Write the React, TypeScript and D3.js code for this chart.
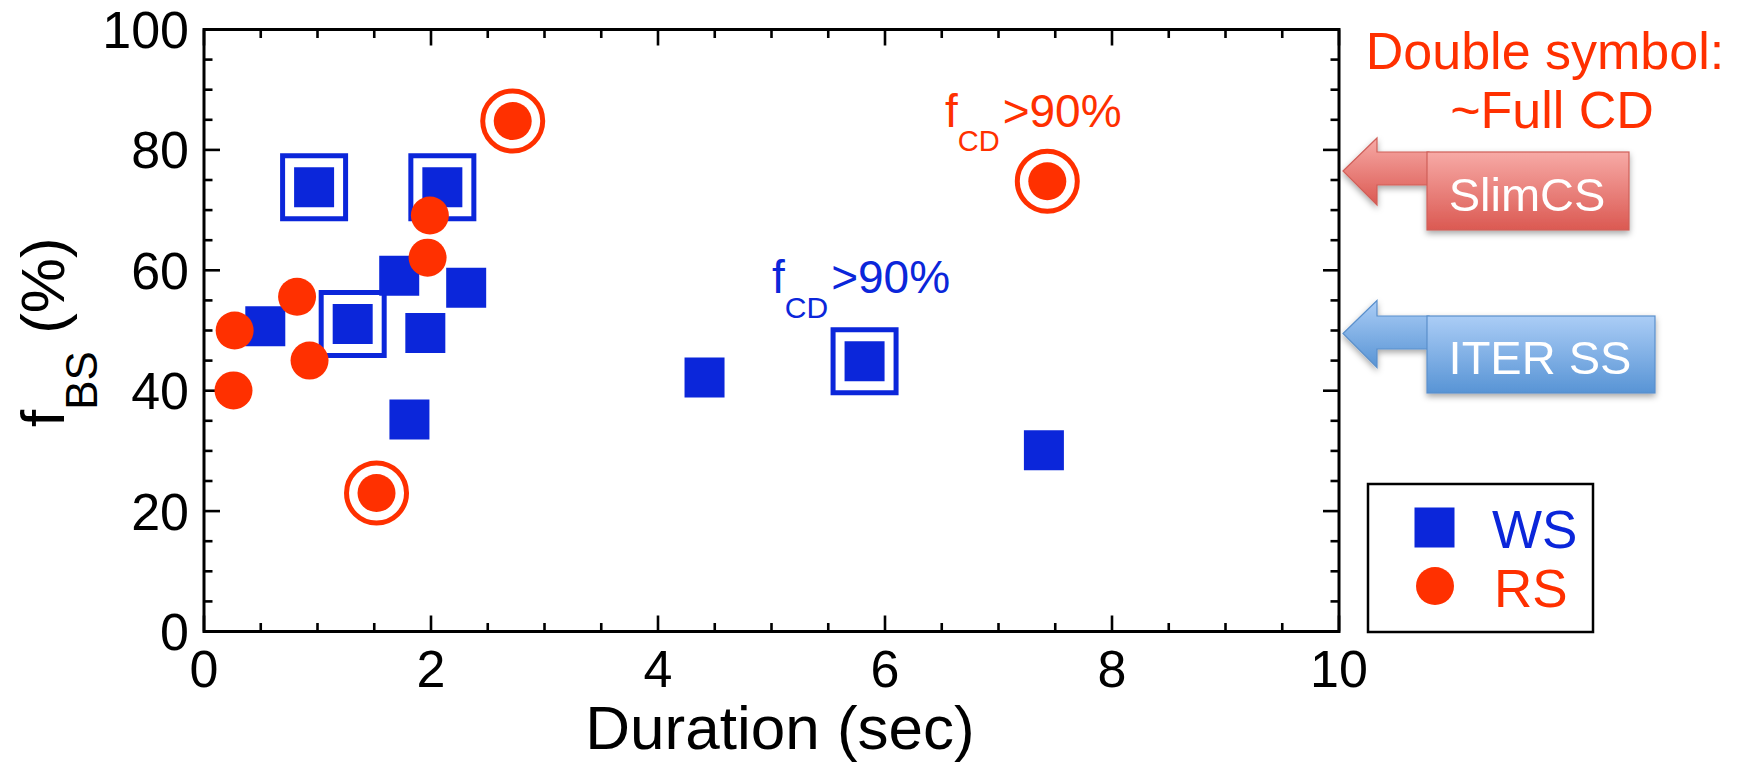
import React from "react";
import * as d3 from "d3";

// ---- data ----
const wsX = [0.54, 1.72, 1.95, 2.31, 1.81, 4.41, 7.4];
const wsY = [50.7, 59.1, 49.6, 57.1, 35.2, 42.2, 30.1];
const wsFullX = [0.97, 2.1, 1.31, 5.82];
const wsFullY = [73.8, 73.8, 51.1, 44.9];
const rsX = [0.27, 0.26, 0.82, 0.93, 1.99, 1.97];
const rsY = [50.0, 40.05, 55.6, 45.0, 69.1, 62.1];
const rsFullX = [1.52, 2.72, 7.43];
const rsFullY = [23.0, 84.8, 74.8];
const xTickValues = [0, 2, 4, 6, 8, 10];
const yTickValues = [0, 20, 40, 60, 80, 100];
const legendLabels = ["WS", "RS"];
const refLabels = ["SlimCS", "ITER SS"];
const refValues = [76.5, 49.5];

const W = 1740;
const H = 763;
const FONT = "'Liberation Sans', Arial, Helvetica, sans-serif";
const BLUE = "#0b26da";
const RED = "#ff3000";

export default function App() {
  const x = d3.scaleLinear().domain([0, 10]).range([204, 1339]);
  const y = d3.scaleLinear().domain([0, 100]).range([631.5, 29.5]);
  const [x0, x1] = x.range();
  const [y0, y1] = y.range();
  const minorX = d3.range(0, 10.001, 0.5);
  const minorY = d3.range(0, 100.001, 5);
  const isMajX = (v: number) => Math.abs(v / 2 - Math.round(v / 2)) < 1e-6;
  const isMajY = (v: number) => Math.abs(v / 20 - Math.round(v / 20)) < 1e-6;
  const MAJ = 16;
  const MIN = 8.5;
  const SQ = 40;
  const R = 19;

  const sq = d3.symbol().type(d3.symbolSquare).size(SQ * SQ)();
  const outerSq = d3.symbol().type(d3.symbolSquare).size(63 * 63)();

  // reference arrows
  const arrowDefs = [
    { label: refLabels[0], val: refValues[0], boxW: 202, top: "#f7aaa6", bot: "#db5952", stroke: "#cf5f59", boxTop: 152, boxBot: 230 },
    { label: refLabels[1], val: refValues[1], boxW: 228, top: "#abcdf6", bot: "#5894d5", stroke: "#5a8fcb", boxTop: 316, boxBot: 393 },
  ];

  return (
    <svg
      width={W}
      height={H}
      style={{ position: "absolute", left: 0, top: 0, background: "#fff" }}
      fontFamily={FONT}
    >
      <defs>
        {arrowDefs.map((a, i) => (
          <linearGradient key={i} id={`g${i}`} x1="0" y1="0" x2="0" y2="1">
            <stop offset="0" stopColor={a.top} />
            <stop offset="1" stopColor={a.bot} />
          </linearGradient>
        ))}
        <filter id="shadow" x="-20%" y="-20%" width="140%" height="160%">
          <feDropShadow dx="0" dy="3" stdDeviation="3" floodColor="#000" floodOpacity="0.35" />
        </filter>
      </defs>

      {/* frame */}
      <rect x={x0} y={y1} width={x1 - x0} height={y0 - y1} fill="none" stroke="#000" strokeWidth={3} />

      {/* x ticks bottom and top */}
      {minorX.map((v, i) => {
        const L = isMajX(v) ? MAJ : MIN;
        return (
          <g key={"xt" + i} stroke="#000" strokeWidth={2.6}>
            <line x1={x(v)} x2={x(v)} y1={y0} y2={y0 - L} />
            <line x1={x(v)} x2={x(v)} y1={y1} y2={y1 + L} />
          </g>
        );
      })}
      {minorY.map((v, i) => {
        const L = isMajY(v) ? MAJ : MIN;
        return (
          <g key={"yt" + i} stroke="#000" strokeWidth={2.6}>
            <line x1={x0} x2={x0 + L} y1={y(v)} y2={y(v)} />
            <line x1={x1} x2={x1 - L} y1={y(v)} y2={y(v)} />
          </g>
        );
      })}

      {/* tick labels */}
      {xTickValues.map((v) => (
        <text key={"xl" + v} x={x(v)} y={687} fontSize={52} textAnchor="middle" fill="#000">
          {v}
        </text>
      ))}
      {yTickValues.map((v) => (
        <text key={"yl" + v} x={189} y={y(v) + 18.5} fontSize={52} textAnchor="end" fill="#000">
          {v}
        </text>
      ))}

      {/* axis titles */}
      <text x={780} y={749} fontSize={62} textAnchor="middle" fill="#000">
        Duration (sec)
      </text>
      <text transform="translate(64,427) rotate(-90)" fontSize={62} fill="#000">
        f
        <tspan fontSize={44} dy={33}>BS</tspan>
        <tspan dy={-33}> (%)</tspan>
      </text>

      {/* WS squares */}
      {wsFullX.map((v, i) => (
        <g key={"wsf" + i} transform={`translate(${x(v)},${y(wsFullY[i])})`}>
          <path d={outerSq!} fill="#fff" stroke={BLUE} strokeWidth={5} />
          <path d={sq!} fill={BLUE} />
        </g>
      ))}
      {wsX.map((v, i) => (
        <path key={"ws" + i} d={sq!} transform={`translate(${x(v)},${y(wsY[i])})`} fill={BLUE} />
      ))}

      {/* RS circles */}
      {rsFullX.map((v, i) => (
        <g key={"rsf" + i}>
          <circle cx={x(v)} cy={y(rsFullY[i])} r={30} fill="#fff" stroke={RED} strokeWidth={5} />
          <circle cx={x(v)} cy={y(rsFullY[i])} r={R} fill={RED} />
        </g>
      ))}
      {rsX.map((v, i) => (
        <circle key={"rs" + i} cx={x(v)} cy={y(rsY[i])} r={R} fill={RED} />
      ))}

      {/* f_CD annotations */}
      <text x={945} y={127} fontSize={46} fill={RED}>
        f<tspan fontSize={29} dy={24}>CD</tspan>
        <tspan dy={-24} dx={3}>&gt;90%</tspan>
      </text>
      <text x={772} y={293} fontSize={46} fill={BLUE}>
        f<tspan fontSize={30} dy={25}>CD</tspan>
        <tspan dy={-25} dx={3}>&gt;90%</tspan>
      </text>

      {/* Double symbol note */}
      <text x={1545} y={69} fontSize={52} textAnchor="middle" fill={RED}>
        Double symbol:
      </text>
      <text x={1552} y={128} fontSize={52} textAnchor="middle" fill={RED}>
        ~Full CD
      </text>

      {/* reference arrows */}
      {arrowDefs.map((a, i) => {
        const tipX = x1 + 4;
        const tipY = y(a.val);
        const headX = 1377;
        const boxX = 1427;
        const sTop = a.boxTop;
        const sBot = a.boxTop + 33;
        const hTop = tipY - 33;
        const hBot = tipY + 34;
        const p = d3.path();
        p.moveTo(tipX, tipY);
        p.lineTo(headX, hTop);
        p.lineTo(headX, sTop);
        p.lineTo(boxX + 2, sTop);
        p.lineTo(boxX + 2, sBot);
        p.lineTo(headX, sBot);
        p.lineTo(headX, hBot);
        p.closePath();
        return (
          <g key={"ar" + i} filter="url(#shadow)">
            <path d={p.toString()} fill={`url(#g${i})`} stroke={a.stroke} strokeWidth={1.2} />
            <rect x={boxX} y={a.boxTop} width={a.boxW} height={a.boxBot - a.boxTop} fill={`url(#g${i})`} stroke={a.stroke} strokeWidth={1.2} />
            <text x={boxX + a.boxW / 2 - 1} y={a.boxBot - 19} fontSize={47} textAnchor="middle" fill="#fff">
              {a.label}
            </text>
          </g>
        );
      })}

      {/* legend */}
      <rect x={1368} y={484} width={225} height={148} fill="#fff" stroke="#000" strokeWidth={2.5} />
      <path d={sq!} transform="translate(1434.5,527.5)" fill={BLUE} />
      <circle cx={1435} cy={586} r={R} fill={RED} />
      <text x={1492} y={548} fontSize={53} fill={BLUE}>
        {legendLabels[0]}
      </text>
      <text x={1494} y={607} fontSize={53} fill={RED}>
        {legendLabels[1]}
      </text>
    </svg>
  );
}
